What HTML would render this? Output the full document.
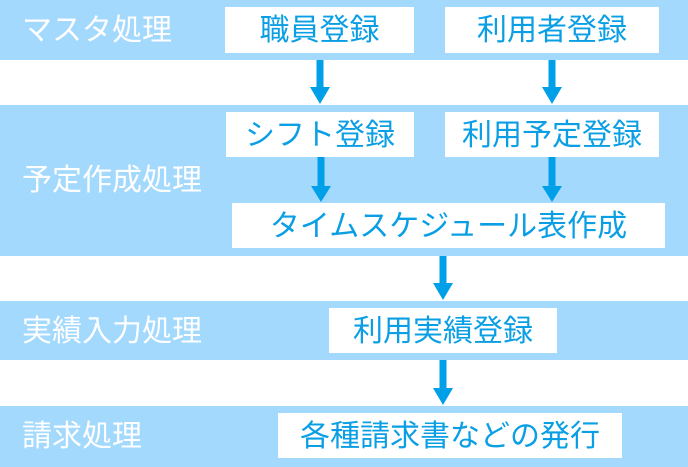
<!DOCTYPE html>
<html>
<head>
<meta charset="utf-8">
<style>
  html,body{margin:0;padding:0;}
  body{width:688px;height:467px;position:relative;overflow:hidden;background:#fff;
    font-family:"Liberation Sans","Noto Sans CJK JP",sans-serif;}
  .band{position:absolute;left:0;width:688px;background:#a3d9fd;}
  .lbl{position:absolute;left:22px;color:#fff;font-size:30px;white-space:nowrap;}
  .box{position:absolute;background:#fff;color:#0a9fe4;font-size:30px;text-align:center;white-space:nowrap;}
  .box span{position:relative;top:1px;}
  svg{position:absolute;left:0;top:0;}
</style>
</head>
<body>
  <div class="band" style="top:0;height:60px;"></div>
  <div class="band" style="top:105px;height:151px;"></div>
  <div class="band" style="top:301px;height:59px;"></div>
  <div class="band" style="top:406px;height:61px;"></div>

  <div class="lbl" style="top:11px;line-height:40px;">マスタ処理</div>
  <div class="lbl" style="top:161px;line-height:40px;">予定作成処理</div>
  <div class="lbl" style="top:312px;line-height:40px;">実績入力処理</div>
  <div class="lbl" style="top:417px;line-height:40px;">請求処理</div>

  <div class="box" style="left:225px;top:7px;width:189px;height:46px;line-height:46px;"><span>職員登録</span></div>
  <div class="box" style="left:445px;top:7px;width:214px;height:46px;line-height:46px;"><span>利用者登録</span></div>
  <div class="box" style="left:226px;top:112px;width:188px;height:45px;line-height:45px;"><span>シフト登録</span></div>
  <div class="box" style="left:445px;top:112px;width:214px;height:45px;line-height:45px;"><span>利用予定登録</span></div>
  <div class="box" style="left:232px;top:203px;width:433px;height:45px;line-height:45px;"><span>タイムスケジュール表作成</span></div>
  <div class="box" style="left:329px;top:308px;width:228px;height:45px;line-height:45px;"><span>利用実績登録</span></div>
  <div class="box" style="left:278px;top:413px;width:344px;height:45px;line-height:45px;"><span>各種請求書などの発行</span></div>

  <svg width="688" height="467" viewBox="0 0 688 467">
    <g fill="#00a0e9">
      <rect x="316.5" y="60" width="7" height="28"/>
      <polygon points="310,87 330,87 320,104"/>
      <rect x="548.5" y="60" width="7" height="28"/>
      <polygon points="542,87 562,87 552,104"/>
      <rect x="317.5" y="157" width="7" height="30"/>
      <polygon points="311,186 331,186 321,202"/>
      <rect x="548.5" y="157" width="7" height="30"/>
      <polygon points="542,186 562,186 552,202"/>
      <rect x="439.5" y="256" width="7" height="28"/>
      <polygon points="433,283 453,283 443,300"/>
      <rect x="439.5" y="360" width="7" height="29"/>
      <polygon points="433,388 453,388 443,405"/>
    </g>
  </svg>
</body>
</html>
